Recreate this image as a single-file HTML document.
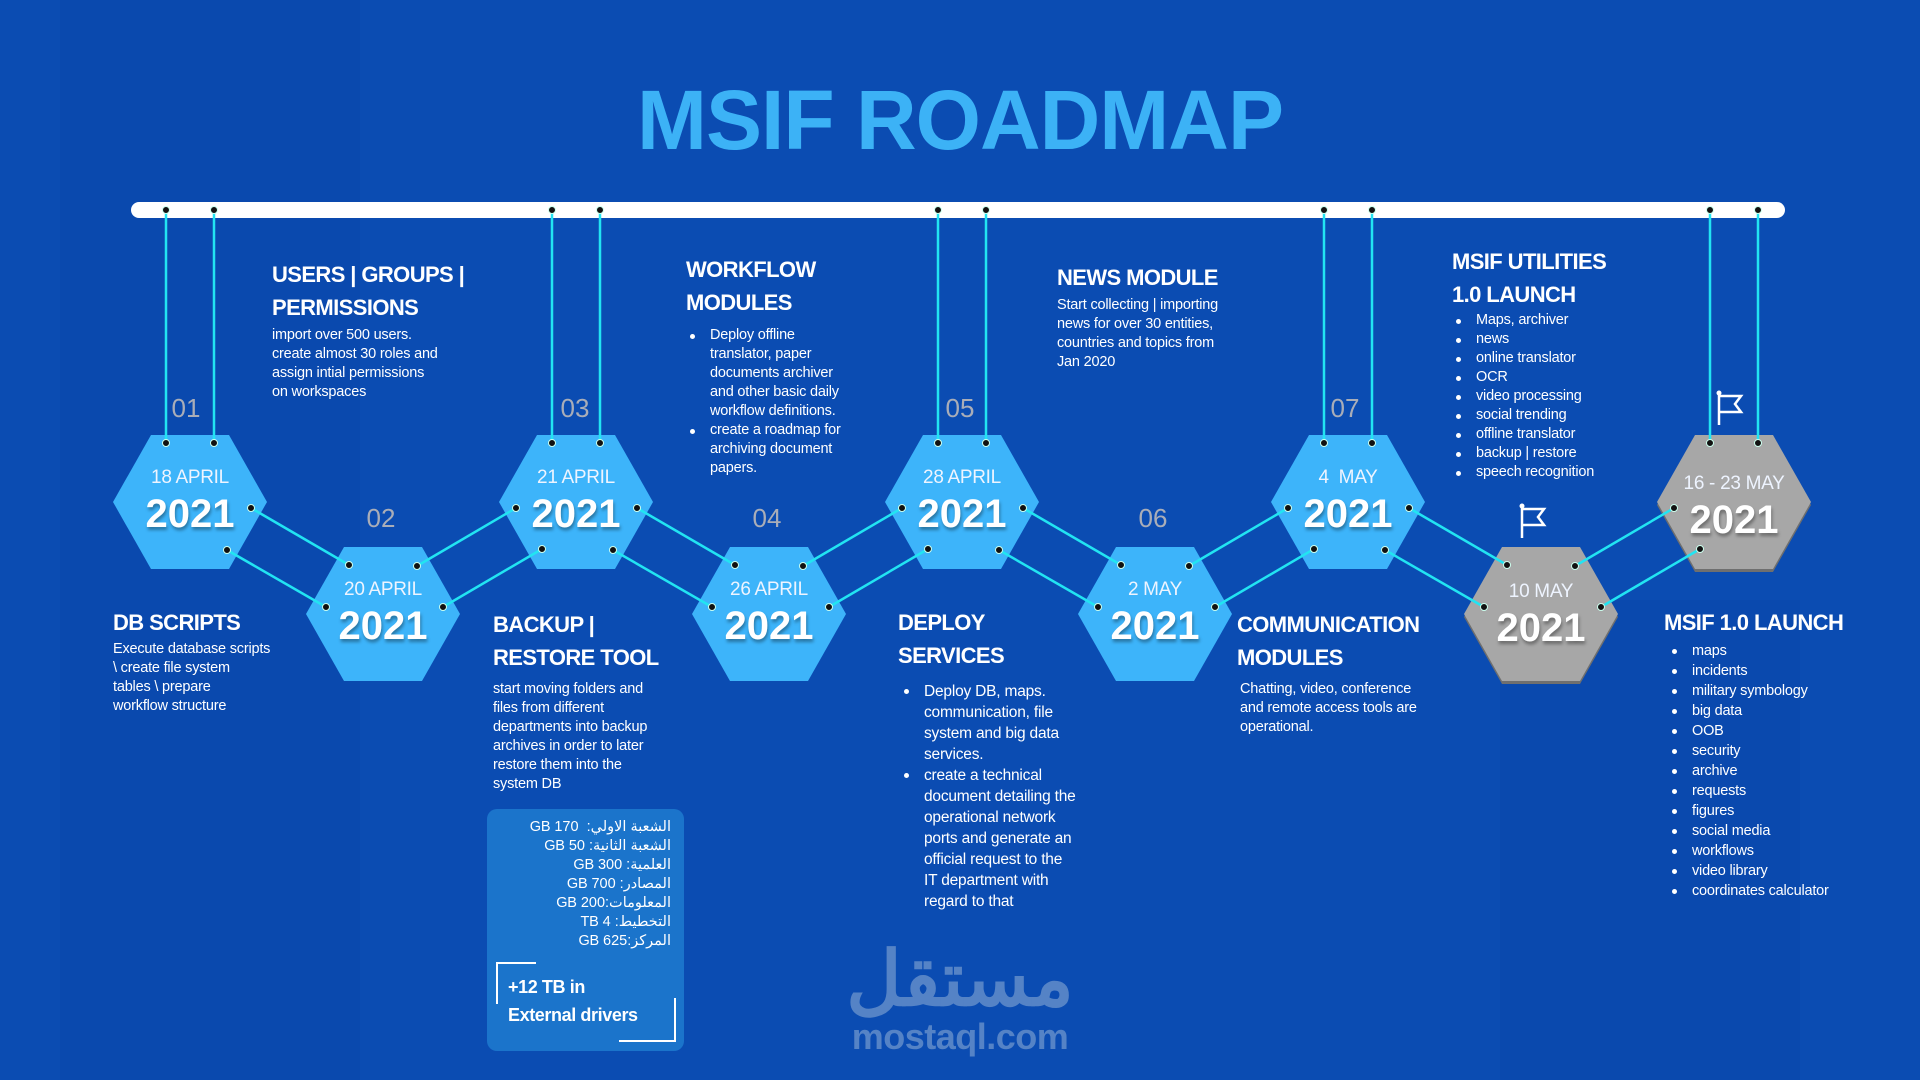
<!DOCTYPE html>
<html><head><meta charset="utf-8">
<style>
*{margin:0;padding:0;box-sizing:border-box}
html,body{width:1920px;height:1080px;overflow:hidden}
body{background:#0b4cb2;font-family:"Liberation Sans",sans-serif;color:#fff;position:relative}
.a{position:absolute;white-space:nowrap}
.t{font-weight:bold;font-size:22px;line-height:33px;letter-spacing:-0.6px}
.b{font-size:14.5px;line-height:19px;letter-spacing:-0.2px}
ul{list-style:none}
ul li{position:relative;padding-left:24px}
ul li:before{content:"";position:absolute;left:4px;top:8px;width:5px;height:5px;border-radius:50%;background:#fff}
.num{position:absolute;font-size:26px;color:#a9adb8;transform:translateX(-50%)}
</style></head><body>
<svg width="1920" height="1080" style="position:absolute;left:0;top:0">
<rect x="60" y="0" width="300" height="1080" fill="#0a47a8" opacity="0.4"/>
<rect x="1500" y="600" width="300" height="480" fill="#0a47a8" opacity="0.4"/>
<rect x="131" y="202" width="1654" height="16" rx="8" fill="#fff"/>
<g id="g"></g>
</svg>
<script>
var S='http://www.w3.org/2000/svg',g=document.getElementById('g');
function el(n,a){var e=document.createElementNS(S,n);for(var k in a)e.setAttribute(k,a[k]);g.appendChild(e);return e;}
var cx=[190,383,576,769,962,1155,1348,1541,1734],cy=[502,614];
var dots=[];
function line(x1,y1,x2,y2){el('line',{x1:x1,y1:y1,x2:x2,y2:y2,stroke:'#22e4f2','stroke-width':2.5});dots.push([x1,y1],[x2,y2]);}
for(var i=0;i<9;i++){var x=cx[i],y=cy[i%2],gray=i>=7;
 if(gray)el('polygon',{points:[x-77,y+3,x-39,y-64,x+39,y-64,x+77,y+3,x+39,y+70,x-39,y+70].join(','),fill:'#6f6f6f'});
 el('polygon',{points:[x-77,y,x-39,y-67,x+39,y-67,x+77,y,x+39,y+67,x-39,y+67].join(','),fill:gray?'#a7a7a7':'#3db4fa'});
 if(i%2==0){line(x-24,210,x-24,443);line(x+24,210,x+24,443);}
}
for(var i=0;i<8;i++){var a=cx[i],b=cx[i+1];
 if(i%2==0){line(a+61,508,b-34,565);line(a+37,550,b-57,607);}
 else{line(a+34,566,b-60,508);line(a+60,607,b-34,549);}
}
dots.forEach(function(d){el('circle',{cx:d[0],cy:d[1],r:3.5,fill:'#111',stroke:'#cfe',"stroke-width":1});});
</script>
<div class="a" style="left:0;width:1920px;top:72px;text-align:center;font-weight:bold;font-size:84px;color:#3cb2f6;letter-spacing:-1px"><span style="display:inline-block">MSIF ROADMAP</span></div>

<div class="a" style="left:0;top:0;width:1920px;height:1080px">
<div id="hl"></div>
</div>
<script>
var L=[["18 APRIL",0],["20 APRIL",1],["21 APRIL",0],["26 APRIL",1],["28 APRIL",0],["2 MAY",1],["4  MAY",0],["10 MAY",1],["16 - 23 MAY",0]];
var cx=[190,383,576,769,962,1155,1348,1541,1734],h='';
for(var i=0;i<9;i++){var y=L[i][1]?614:502;if(i==8)y+=6;if(i==7)y+=2;
h+='<div class="a" style="left:'+(cx[i]-80)+'px;width:160px;text-align:center;top:'+(y-35)+'px;font-size:19px;color:#eef4ff;letter-spacing:-0.3px;white-space:pre">'+L[i][0]+'</div>';
h+='<div class="a" style="left:'+(cx[i]-80)+'px;width:160px;text-align:center;top:'+(y-10)+'px;font-size:40px;font-weight:bold;color:#fff;text-shadow:1px 3px 3px rgba(0,0,0,0.35)">2021</div>';}
var N=[["01",186,393],["02",381,503],["03",575,393],["04",767,503],["05",960,393],["06",1153,503],["07",1345,393]];
N.forEach(function(n){h+='<div class="num" style="left:'+n[1]+'px;top:'+n[2]+'px">'+n[0]+'</div>';});
document.getElementById('hl').innerHTML=h;
</script>
<svg width="1920" height="1080" style="position:absolute;left:0;top:0;pointer-events:none">
<g stroke="#fff" stroke-width="2.5" fill="none">
<path d="M1522 506V538"/><path d="M1522 509H1544L1538 517L1544 525H1522"/>
<path d="M1719 393V425"/><path d="M1719 396H1741L1735 404L1741 412H1719"/>
</g>
<circle cx="1522" cy="506" r="2.5" fill="#fff"/><circle cx="1719" cy="393" r="2.5" fill="#fff"/>
</svg>

<div class="a t" style="left:113px;top:606px">DB SCRIPTS</div>
<div class="a b" style="left:113px;top:640px">Execute database scripts<br>\ create file system<br>tables \ prepare<br>workflow structure</div>

<div class="a t" style="left:272px;top:258px">USERS | GROUPS |<br>PERMISSIONS</div>
<div class="a b" style="left:272px;top:326px">import over 500 users.<br>create almost 30 roles and<br>assign intial permissions<br>on workspaces</div>

<div class="a t" style="left:493px;top:608px">BACKUP |<br>RESTORE TOOL</div>
<div class="a b" style="left:493px;top:680px">start moving folders and<br>files from different<br>departments into backup<br>archives in order to later<br>restore them into the<br>system DB</div>

<div class="a" style="left:487px;top:809px;width:197px;height:242px;background:#1b74cb;border-radius:10px"></div>
<div class="a b" dir="rtl" style="left:487px;width:184px;top:818px;text-align:right;font-family:'Liberation Sans','Noto Sans CJK SC',sans-serif;line-height:19px;font-size:14.5px;white-space:normal">
<div>الشعبة الاولي:&nbsp; 170 GB</div><div>الشعبة الثانية: 50 GB</div><div>العلمية: 300 GB</div><div>المصادر: 700 GB</div><div>المعلومات:200 GB</div><div>التخطيط: 4 TB</div><div>المركز:625 GB</div></div>
<div class="a" style="left:496px;top:962px;width:40px;height:42px;border-left:2px solid #fff;border-top:2px solid #fff"></div>
<div class="a" style="left:619px;top:998px;width:57px;height:44px;border-right:2px solid #fff;border-bottom:2px solid #fff"></div>
<div class="a" style="left:508px;top:973px;font-weight:bold;font-size:18px;line-height:28px;letter-spacing:-0.4px">+12 TB in<br>External drivers</div>

<div class="a t" style="left:686px;top:253px">WORKFLOW<br>MODULES</div>
<ul class="a b" style="left:686px;top:326px"><li>Deploy offline<br>translator, paper<br>documents archiver<br>and other basic daily<br>workflow definitions.</li><li>create a roadmap for<br>archiving document<br>papers.</li></ul>

<div class="a t" style="left:898px;top:606px">DEPLOY<br>SERVICES</div>
<ul class="a b" style="left:900px;top:681px;font-size:15.5px;line-height:21px"><li>Deploy DB, maps.<br>communication, file<br>system and big data<br>services.</li><li>create a technical<br>document detailing the<br>operational network<br>ports and generate an<br>official request to the<br>IT department with<br>regard to that</li></ul>

<div class="a t" style="left:1057px;top:261px">NEWS MODULE</div>
<div class="a b" style="left:1057px;top:296px">Start collecting | importing<br>news for over 30 entities,<br>countries and topics from<br>Jan 2020</div>

<div class="a t" style="left:1237px;top:608px">COMMUNICATION<br>MODULES</div>
<div class="a b" style="left:1240px;top:680px">Chatting, video, conference<br>and remote access tools are<br>operational.</div>

<div class="a t" style="left:1452px;top:245px">MSIF UTILITIES<br>1.0 LAUNCH</div>
<ul class="a b" style="left:1452px;top:311px"><li>Maps, archiver</li><li>news</li><li>online translator</li><li>OCR</li><li>video processing</li><li>social trending</li><li>offline translator</li><li>backup | restore</li><li>speech recognition</li></ul>

<div class="a t" style="left:1664px;top:606px">MSIF 1.0 LAUNCH</div>
<ul class="a b" style="left:1668px;top:641px;line-height:20px"><li>maps</li><li>incidents</li><li>military symbology</li><li>big data</li><li>OOB</li><li>security</li><li>archive</li><li>requests</li><li>figures</li><li>social media</li><li>workflows</li><li>video library</li><li>coordinates calculator</li></ul>

<div class="a" style="left:760px;width:400px;text-align:center;top:935px;font-size:76px;font-weight:bold;color:#5583c6;font-family:'Liberation Sans','Noto Sans CJK SC',sans-serif;line-height:90px">مستقل</div>
<div class="a" style="left:760px;width:400px;text-align:center;top:1016px;font-size:36px;font-weight:bold;color:#5583c6;letter-spacing:-0.5px">mostaql.com</div>
</body></html>
